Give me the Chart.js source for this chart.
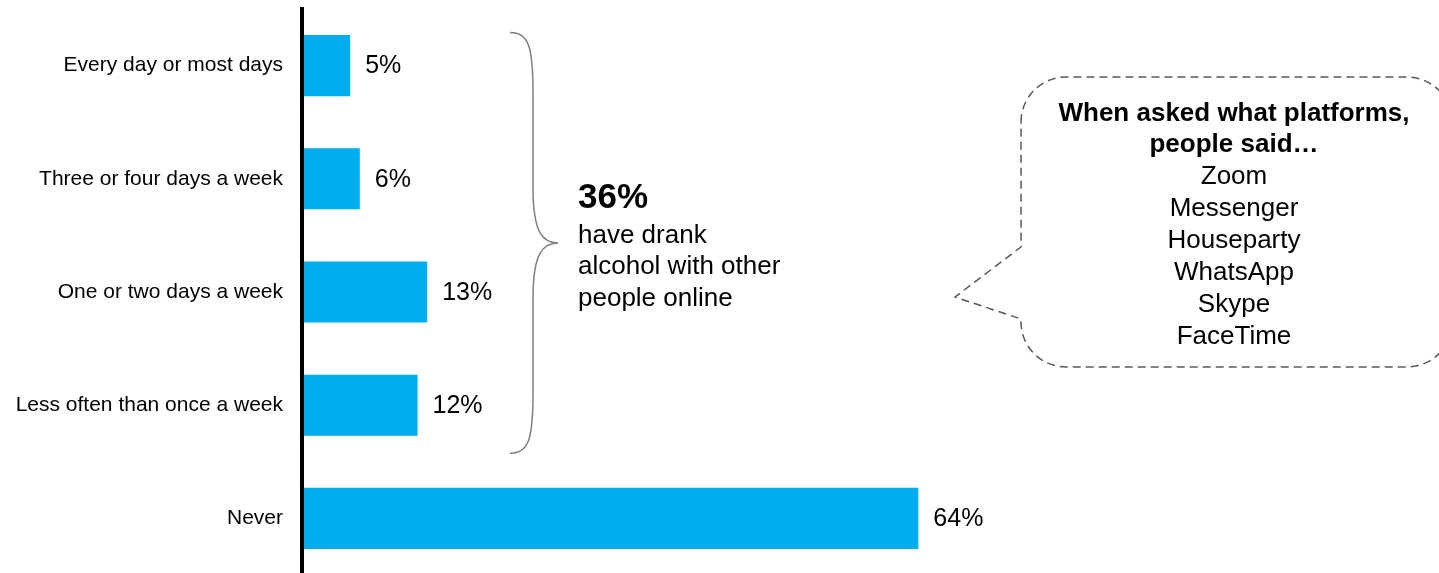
<!DOCTYPE html>
<html>
<head>
<meta charset="utf-8">
<script src="https://cdn.jsdelivr.net/npm/chart.js@4/dist/chart.umd.min.js"></script>
<style>
  html, body { margin: 0; padding: 0; background: #fff; overflow: hidden; }
  #wrap { width: 1439px; height: 573px; overflow: hidden; }
</style>
</head>
<body>
<div id="wrap"><canvas id="drinkChart" width="1439" height="575"></canvas></div>
<script>
  const categories = [
    'Every day or most days',
    'Three or four days a week',
    'One or two days a week',
    'Less often than once a week',
    'Never'
  ];
  const shares = [5, 6, 13, 12, 64];
  const calloutLines = ['have drank', 'alcohol with other', 'people online'];
  const bubbleTitle = ['When asked what platforms,', 'people said\u2026'];
  const platforms = ['Zoom', 'Messenger', 'Houseparty', 'WhatsApp', 'Skype', 'FaceTime'];

  const FONT = '"Liberation Sans", Arial, sans-serif';
  const BAR_BLUE = '#00ADEE';

  // percentage labels at the end of each bar, plus the brace and the speech bubble
  const annotations = {
    id: 'annotations',
    afterDatasetsDraw(chart) {
      const ctx = chart.ctx;
      const yScale = chart.scales.y;
      const meta = chart.getDatasetMeta(0);

      ctx.save();
      ctx.fillStyle = '#000';
      ctx.font = '25px ' + FONT;
      ctx.textAlign = 'left';
      ctx.textBaseline = 'middle';
      meta.data.forEach((bar, i) => {
        ctx.fillText(shares[i] + '%', bar.x + 15, bar.y + 1);
      });

      // curly brace grouping everyone who did drink online
      const top = yScale.getPixelForValue(0) - 33;
      const bottom = yScale.getPixelForValue(3) + 48;
      const mid = (top + bottom) / 2;
      const xEnd = 510, xSpine = 533, xTip = 558;
      ctx.strokeStyle = '#7f7f7f';
      ctx.lineWidth = 1.5;
      ctx.beginPath();
      ctx.moveTo(xEnd, top);
      ctx.bezierCurveTo(xEnd + 18, top, xSpine, top + 12, xSpine, top + 60);
      ctx.lineTo(xSpine, mid - 55);
      ctx.bezierCurveTo(xSpine, mid - 10, xSpine + 10, mid, xTip, mid);
      ctx.bezierCurveTo(xSpine + 10, mid, xSpine, mid + 10, xSpine, mid + 55);
      ctx.lineTo(xSpine, bottom - 60);
      ctx.bezierCurveTo(xSpine, bottom - 12, xEnd + 18, bottom, xEnd, bottom);
      ctx.stroke();

      const drank = shares.slice(0, 4).reduce((a, b) => a + b, 0);
      ctx.textBaseline = 'alphabetic';
      ctx.font = 'bold 35px ' + FONT;
      ctx.fillText(drank + '%', 578, mid - 35);
      ctx.font = '26px ' + FONT;
      calloutLines.forEach((line, i) => {
        ctx.fillText(line, 578, mid + i * 31.5);
      });

      // dashed speech bubble
      const L = 1021, T = 77, R = 1452, B = 367, r = 45;
      ctx.strokeStyle = '#595959';
      ctx.lineWidth = 1.5;
      ctx.setLineDash([8, 5]);
      ctx.beginPath();
      ctx.moveTo(L, T + r);
      ctx.arcTo(L, T, L + r, T, r);
      ctx.lineTo(R - r, T);
      ctx.arcTo(R, T, R, T + r, r);
      ctx.lineTo(R, B - r);
      ctx.arcTo(R, B, R - r, B, r);
      ctx.lineTo(L + r, B);
      ctx.arcTo(L, B, L, B - r, r);
      ctx.lineTo(L, 319);
      ctx.lineTo(955, 297);
      ctx.lineTo(L, 247);
      ctx.closePath();
      ctx.stroke();
      ctx.setLineDash([]);

      ctx.textAlign = 'center';
      ctx.font = 'bold 26px ' + FONT;
      bubbleTitle.forEach((line, i) => {
        ctx.fillText(line, 1234, 121 + i * 31);
      });
      ctx.font = '26px ' + FONT;
      platforms.forEach((name, i) => {
        ctx.fillText(name, 1234, 184 + i * 32);
      });
      ctx.restore();
    }
  };

  new Chart(document.getElementById('drinkChart'), {
    type: 'bar',
    data: {
      labels: categories,
      datasets: [{
        data: shares,
        backgroundColor: BAR_BLUE,
        borderWidth: 0,
        categoryPercentage: 1,
        barPercentage: 0.54
      }]
    },
    options: {
      indexAxis: 'y',
      responsive: false,
      animation: false,
      layout: { padding: { top: 9, right: 174, bottom: 0, left: 0 } },
      plugins: {
        legend: { display: false },
        tooltip: { enabled: false }
      },
      scales: {
        x: {
          display: false,
          min: 0,
          max: 100
        },
        y: {
          afterFit: scale => {
            scale.width = 302;
            // labels sit inside the offset bands, no extra room needed above/below
            scale.paddingTop = 0;
            scale.paddingBottom = 0;
          },
          grid: { display: false, drawTicks: false },
          border: { display: true, color: '#000', width: 4, z: 1 },
          ticks: {
            color: '#000',
            padding: 19,
            font: { family: FONT, size: 21 }
          }
        }
      }
    },
    plugins: [annotations]
  });
</script>
</body>
</html>
